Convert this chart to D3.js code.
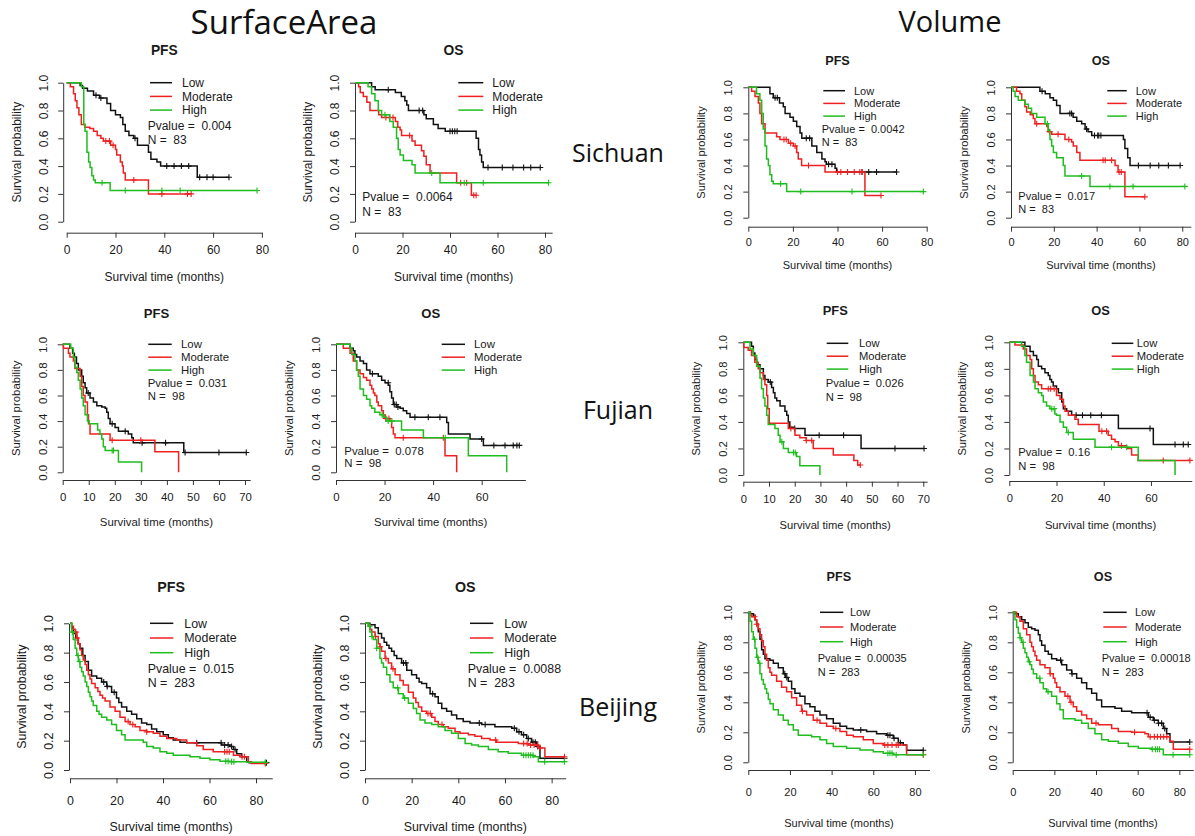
<!DOCTYPE html>
<meta charset="utf-8">
<style>
  body { margin: 0; background: #fff; }
  text { font-family: "Liberation Sans", Arial, sans-serif; fill: #1a1a1a; }
  .curve { fill: none; stroke-width: 1.5; }
  .cens { fill: none; stroke-width: 1.1; }
  .axis path, .axis line { stroke: #333; }
  .big { font-family: "Open Sans", "Liberation Sans", sans-serif; fill: #111; }
</style>
<svg width="1195" height="836"></svg>
<script src="https://d3js.org/d3.v7.min.js"></script>
<script>

// ---- data ----
var groups = ["Low", "Moderate", "High"];
var groupColors = ["#111111", "#ee2020", "#1fbd1f"];
var measures = ["SurfaceArea", "Volume"];
var cohorts = ["Sichuan", "Fujian", "Beijing"];
var endpoints = ["PFS", "OS", "PFS", "OS"];
var pValues = ["0.004", "0.0064", "0.0042", "0.017", "0.031", "0.078", "0.026", "0.16", "0.015", "0.0088", "0.00035", "0.00018"];
var sampleSizes = [83, 83, 83, 83, 98, 98, 98, 98, 283, 283, 283, 283];
var yTicks = [0, 0.2, 0.4, 0.6, 0.8, 1.0];

// Sichuan, SurfaceArea, PFS
var scAreaPfsLow = [[5.5,0.98],[6.5,0.96],[8.5,0.94],[11,0.91],[13.5,0.89],[16.5,0.85],[18,0.80],[20,0.77],[22,0.75],[23,0.70],[24,0.65],[25.5,0.62],[27.5,0.60],[29,0.55],[33.5,0.50],[34.5,0.45],[37,0.43],[38.5,0.40],[53.5,0.32]];
var scAreaPfsLowCens = [12,14,28,41,44,47,50,54.5,57.5,60,66.5];
var scAreaPfsMod = [[1.5,0.97],[2.8,0.92],[3.5,0.87],[4.2,0.82],[5,0.77],[6,0.70],[7.5,0.68],[9.5,0.67],[11,0.65],[12.5,0.62],[14,0.60],[15,0.58],[18,0.55],[20,0.52],[20.5,0.48],[22,0.43],[22.8,0.40],[23.2,0.35],[24,0.30],[33.5,0.20]];
var scAreaPfsModCens = [16,17.5,19,27.5,39,49.5,51];
var scAreaPfsHigh = [[6,0.97],[7,0.70],[7.5,0.65],[8.3,0.50],[9,0.43],[9.6,0.39],[10.3,0.33],[11,0.30],[11.7,0.28],[17.8,0.225]];
var scAreaPfsHighCens = [14.5,24,39,46.5,78];

// Sichuan, SurfaceArea, OS
var scAreaOsLow = [[7,0.97],[8.5,0.95],[17,0.93],[19.5,0.90],[21,0.87],[21.8,0.84],[22.5,0.80],[29,0.77],[30,0.74],[33,0.70],[35,0.67],[38,0.65],[51,0.60],[52,0.52],[52.6,0.48],[53.3,0.43],[54,0.39]];
var scAreaOsLowCens = [14,27,28.5,40,41,42,43,56,62,66.5,71,74,78];
var scAreaOsMod = [[1.5,0.97],[2.2,0.93],[3.5,0.90],[5,0.86],[6.3,0.80],[10,0.77],[11.2,0.75],[17,0.72],[18,0.68],[19,0.66],[19.6,0.62],[24,0.58],[25.3,0.55],[28,0.51],[29,0.47],[30,0.41],[31.6,0.35],[42.8,0.28],[49,0.19]];
var scAreaOsModCens = [13,14.5,16,23,44.5,47,50,51];
var scAreaOsHigh = [[5.5,0.97],[7,0.92],[8.4,0.87],[9.8,0.80],[11.2,0.77],[14.7,0.72],[16.1,0.68],[17.5,0.60],[18.2,0.52],[19,0.48],[20.4,0.44],[24,0.41],[25.3,0.35],[35.8,0.28]];
var scAreaOsHighCens = [12.6,32.3,46,54,81.5];

// Sichuan, Volume, PFS
var scVolPfsLow = [[9.7,0.95],[11.2,0.92],[14,0.88],[15.7,0.85],[16.5,0.80],[18.7,0.77],[20.2,0.74],[21.7,0.70],[23.2,0.65],[24,0.61],[28.5,0.55],[30.7,0.50],[33,0.45],[34.4,0.43],[35,0.41],[38.9,0.38],[39.6,0.35]];
var scVolPfsLowCens = [12,13,26,27.5,36,37.5,51,54,57.5,66.5];
var scVolPfsMod = [[1.5,0.97],[3,0.93],[4.5,0.88],[5.2,0.80],[6,0.72],[7.5,0.65],[12.7,0.62],[14.2,0.60],[18,0.57],[20.2,0.55],[21.7,0.50],[22.4,0.45],[23.9,0.40],[34.4,0.35],[52.3,0.17]];
var scVolPfsModCens = [16,17,19,21,27,40,41.5,44.5,47.5,50,51,59.5];
var scVolPfsHigh = [[3.7,0.95],[5.2,0.90],[6,0.80],[6.7,0.68],[7.5,0.55],[8.2,0.45],[9,0.40],[9.7,0.33],[10.5,0.28],[11.2,0.26],[17.2,0.20]];
var scVolPfsHighCens = [14.5,23.5,46.5,78.5];

// Sichuan, Volume, OS
var scVolOsLow = [[13.5,0.97],[16,0.95],[18.2,0.92],[19.8,0.90],[21.3,0.86],[22.9,0.80],[29,0.77],[30.7,0.74],[33,0.72],[34.6,0.68],[36,0.66],[37.7,0.63],[52.5,0.60],[53.2,0.53],[54.5,0.46],[55.6,0.40]];
var scVolOsLowCens = [14.5,27.5,28.3,35.3,39,40.5,41,42,59.5,65,69,73.5,79];
var scVolOsMod = [[2.6,0.97],[4.2,0.95],[5,0.90],[6.5,0.85],[7.3,0.81],[9,0.79],[10.4,0.76],[11.2,0.72],[16.7,0.70],[17.4,0.66],[19,0.64],[25.2,0.60],[28.3,0.58],[29.1,0.55],[30.7,0.50],[32.2,0.44],[48.6,0.40],[50,0.35],[53.2,0.16]];
var scVolOsModCens = [12,18,22,27,43,44,47,50.5,51.5,62.5];
var scVolOsHigh = [[1,0.97],[1.9,0.93],[3.4,0.90],[6.5,0.87],[8.1,0.84],[9.6,0.80],[12,0.77],[15.9,0.72],[17.4,0.67],[18.2,0.60],[19,0.55],[19.8,0.50],[21.3,0.46],[24.4,0.40],[25.2,0.32],[36.9,0.24]];
var scVolOsHighCens = [17,33,46.2,57,81.2];

// Fujian, SurfaceArea, PFS
var fjAreaPfsLow = [[2.8,0.97],[3.8,0.93],[4.5,0.90],[5.3,0.85],[6,0.80],[7.3,0.75],[7.9,0.70],[8.6,0.66],[9.2,0.62],[10.5,0.58],[11.8,0.55],[13.1,0.52],[15,0.51],[16.3,0.50],[16.9,0.47],[17.5,0.42],[18.2,0.38],[20.1,0.35],[21.4,0.32],[25.2,0.30],[26.5,0.27],[27.1,0.23],[46.5,0.155]];
var fjAreaPfsLowCens = [9.8,19,24,30.5,39.5,47,60,70.5];
var fjAreaPfsMod = [[0.3,0.97],[2.2,0.93],[2.8,0.90],[4.1,0.87],[4.7,0.81],[6.7,0.75],[7.3,0.67],[7.9,0.60],[8.6,0.55],[9.5,0.45],[9.9,0.38],[10.5,0.30],[18.2,0.25],[35.4,0.16],[44.5,0]];
var fjAreaPfsModCens = [19,30];
var fjAreaPfsHigh = [[3.1,0.97],[4.1,0.90],[4.7,0.82],[5.4,0.78],[6,0.72],[6.7,0.65],[7.3,0.58],[7.9,0.52],[8.6,0.45],[9.5,0.40],[10.2,0.38],[13.4,0.33],[14.3,0.30],[15,0.26],[15.6,0.20],[16.3,0.17],[21.4,0.08],[30.3,0]];
var fjAreaPfsHighCens = [19,19.5];

// Fujian, SurfaceArea, OS
var fjAreaOsLow = [[5.8,0.97],[7.1,0.95],[7.8,0.92],[8.5,0.90],[9.9,0.87],[11.3,0.85],[12.6,0.80],[14,0.77],[17.4,0.75],[18.8,0.72],[20.2,0.70],[21.6,0.68],[22.2,0.63],[22.9,0.58],[23.6,0.53],[25,0.51],[26.4,0.50],[27.7,0.48],[29.1,0.46],[30.5,0.43],[45.6,0.39],[46.3,0.30],[55.2,0.26],[60.7,0.21]];
var fjAreaOsLowCens = [15,21.5,24,24.8,25.5,32.5,38,42.8,60,65,69.6,73,74.5,75.5];
var fjAreaOsMod = [[3,0.97],[5.8,0.93],[7.1,0.87],[8.5,0.80],[9.9,0.77],[11.3,0.74],[12.6,0.72],[14,0.68],[14.7,0.65],[15.4,0.62],[16,0.60],[16.8,0.55],[17.4,0.52],[18.8,0.48],[19.5,0.45],[20.2,0.42],[22.2,0.40],[22.9,0.35],[23.6,0.30],[24.3,0.27],[44.9,0.13],[49.7,0]];
var fjAreaOsModCens = [20.5,21.8,27.7,44.2];
var fjAreaOsHigh = [[5.8,0.97],[6.5,0.92],[7.8,0.87],[8.5,0.80],[9.2,0.75],[9.9,0.65],[11.3,0.60],[12.6,0.57],[14,0.52],[14.7,0.50],[16,0.47],[18.1,0.45],[19.5,0.43],[20.9,0.40],[27,0.33],[36,0.27],[54.5,0.13],[70.3,0]];
var fjAreaOsHighCens = [19,21.5,23,45];

// Fujian, Volume, PFS
var fjVolPfsLow = [[3.2,0.97],[3.9,0.92],[4.5,0.87],[5.2,0.83],[6.5,0.80],[7.8,0.75],[8.4,0.72],[9.7,0.70],[11,0.66],[11.7,0.62],[12.3,0.58],[13,0.56],[14.3,0.52],[16.2,0.48],[16.9,0.45],[17.5,0.40],[18.1,0.36],[19.4,0.35],[24,0.30],[45.8,0.20]];
var fjVolPfsLowCens = [10.5,20,29.5,39,59,70.3];
var fjVolPfsMod = [[0.2,0.96],[1.9,0.94],[3.2,0.90],[4.5,0.85],[5.8,0.80],[6.5,0.77],[7.8,0.72],[8.4,0.68],[9.1,0.60],[9.5,0.50],[10.1,0.39],[17.5,0.35],[20.1,0.30],[22,0.28],[24.5,0.26],[27.2,0.20],[35,0.15],[43,0.11],[44.5,0.075]];
var fjVolPfsModCens = [18.5,24.5,26.6,45.5];
var fjVolPfsHigh = [[2.6,0.95],[3.9,0.90],[5.2,0.82],[6.5,0.73],[7.1,0.65],[7.8,0.58],[8.4,0.52],[9.1,0.45],[9.7,0.38],[12.3,0.35],[13.6,0.30],[14.3,0.25],[15.6,0.20],[17.5,0.17],[20.7,0.14],[22,0.07],[29.8,0]];
var fjVolPfsHighCens = [15,19.5,20.2];

// Fujian, Volume, OS
var fjVolOsLow = [[6.6,0.97],[8.8,0.93],[10.2,0.90],[11.6,0.87],[12.3,0.82],[13.7,0.80],[15.1,0.77],[16.5,0.75],[17.2,0.72],[17.9,0.70],[18.6,0.67],[20,0.65],[20.8,0.62],[22.2,0.55],[22.9,0.50],[24.3,0.48],[26.4,0.45],[46.2,0.35],[61,0.23]];
var fjVolOsLowCens = [28.3,31,34.5,39,59.6,70.2,73.7,75.8];
var fjVolOsMod = [[2.4,0.98],[5.9,0.95],[7.3,0.90],[8.8,0.87],[9.5,0.80],[10.2,0.75],[10.9,0.70],[12.3,0.68],[13.7,0.65],[20,0.60],[21.5,0.57],[22.9,0.52],[23.6,0.48],[25,0.45],[27.8,0.42],[29.2,0.38],[38,0.33],[41.9,0.30],[43.3,0.27],[44.8,0.25],[46.2,0.22],[49.7,0.20],[51.8,0.15],[54.6,0.11]];
var fjVolOsModCens = [16.5,17.5,19,39.2,41.2,47.5,65.2,76.5];
var fjVolOsHigh = [[5.2,0.97],[6.6,0.90],[7.3,0.85],[8.8,0.75],[10.2,0.70],[10.9,0.65],[12.3,0.62],[13.7,0.60],[14.4,0.55],[15.8,0.52],[17.2,0.50],[19.3,0.46],[20,0.45],[21.5,0.40],[22.9,0.36],[24.3,0.32],[27.1,0.27],[36.3,0.21],[54.6,0.11],[70.2,0]];
var fjVolOsHighCens = [18,19,25,43.3,49.7];

// Beijing, SurfaceArea, PFS
var bjAreaPfsLow = [[0.7,0.97],[1.4,0.93],[2.5,0.90],[3.5,0.86],[4.3,0.83],[5.5,0.78],[6.5,0.74],[7.9,0.68],[9.3,0.64],[11.5,0.625],[13.6,0.60],[15.8,0.57],[17.9,0.53],[20,0.49],[21,0.46],[22.2,0.43],[24.4,0.40],[26.5,0.38],[28.7,0.35],[30.8,0.32],[33,0.31],[35.1,0.28],[37.3,0.26],[40.1,0.24],[42.3,0.22],[44.4,0.205],[47.3,0.19],[50.2,0.185],[65.2,0.17],[68.8,0.16],[70.3,0.14],[71.7,0.11],[73.8,0.09],[76,0.057],[77,0.05]];
var bjAreaPfsLowCens = [14.5,16,19,54.5,65,66.5,68,69.5,71,84.5];
var bjAreaPfsMod = [[0.7,0.98],[1.5,0.96],[2.2,0.94],[3,0.90],[3.6,0.86],[4.3,0.82],[5,0.78],[5.7,0.75],[6.5,0.72],[7.2,0.68],[7.9,0.65],[8.6,0.62],[9.3,0.59],[10.8,0.56],[12,0.535],[12.9,0.51],[14,0.49],[15.1,0.47],[17.2,0.43],[19.4,0.40],[21.5,0.36],[23.7,0.33],[25.8,0.31],[28,0.295],[30.1,0.27],[33,0.26],[35.8,0.25],[38.7,0.23],[41.6,0.215],[45.9,0.205],[50.2,0.185],[54.5,0.165],[57.3,0.14],[61.6,0.125],[70.3,0.10],[73.1,0.09],[76.7,0.057],[78,0.045]];
var bjAreaPfsModCens = [2.5,3,25,27,33,66.5,67.5,68.5,74,75,84];
var bjAreaPfsHigh = [[0.7,0.94],[1.4,0.89],[2.2,0.83],[2.9,0.78],[3.6,0.74],[4.3,0.70],[5,0.67],[5.7,0.64],[6.5,0.60],[7.2,0.57],[7.9,0.53],[8.6,0.50],[9.3,0.47],[10,0.44],[11.5,0.40],[12.5,0.38],[13.6,0.36],[15.8,0.34],[17.9,0.31],[20,0.27],[22.2,0.24],[23.7,0.205],[31.5,0.19],[33,0.16],[35.8,0.15],[38.7,0.125],[41.6,0.115],[44.4,0.10],[51.6,0.09],[55.9,0.08],[60.2,0.07],[64.5,0.06],[68.8,0.057],[76,0.052]];
var bjAreaPfsHighCens = [1,3.5,4.2,67,68,69.5,70.5,84];

// Beijing, SurfaceArea, OS
var bjAreaOsLow = [[2.1,0.99],[4.3,0.97],[5.7,0.93],[7.1,0.90],[8.2,0.87],[9.3,0.85],[10.3,0.83],[11.4,0.81],[12.5,0.78],[13.6,0.76],[15.7,0.73],[17.9,0.68],[20,0.65],[22.1,0.625],[23.2,0.60],[24.3,0.59],[26.4,0.56],[27.9,0.52],[30,0.50],[31.4,0.455],[32.9,0.42],[35,0.40],[37.1,0.375],[39.3,0.35],[42.1,0.33],[45,0.32],[50,0.31],[55.7,0.295],[62.9,0.285],[65,0.26],[67.1,0.24],[69.3,0.215],[71.4,0.19],[73.6,0.16],[75,0.08]];
var bjAreaOsLowCens = [16.5,17.5,29,49,51.5,64,66,68,70,72,73,74,85.5];
var bjAreaOsMod = [[1.4,0.99],[2.2,0.96],[2.9,0.94],[4.3,0.91],[5.7,0.86],[6.4,0.84],[7.1,0.81],[8.6,0.76],[10,0.73],[11.4,0.69],[12.9,0.65],[15,0.61],[16.4,0.58],[18.6,0.53],[20.7,0.49],[21.8,0.46],[22.9,0.43],[24.3,0.40],[26.4,0.385],[28.6,0.36],[30,0.33],[31.4,0.31],[33.6,0.295],[35.7,0.285],[38.6,0.26],[40.7,0.25],[44.3,0.24],[47.1,0.23],[50,0.215],[53.6,0.205],[56.4,0.19],[65.7,0.18],[70,0.17],[74.3,0.15],[77.1,0.09]];
var bjAreaOsModCens = [4.5,6.5,9,12,27,28,33,56,68,69.5,71,72.5,74,75,85.5];
var bjAreaOsHigh = [[1.4,0.98],[2.1,0.94],[2.9,0.91],[3.6,0.89],[5,0.83],[6.4,0.76],[7.1,0.73],[7.9,0.70],[9.3,0.65],[10.7,0.60],[12.1,0.56],[14.3,0.52],[16.4,0.49],[18.6,0.455],[20.7,0.42],[22.1,0.385],[23.6,0.34],[25.7,0.32],[28.6,0.31],[31.4,0.295],[34.3,0.27],[37.1,0.25],[40,0.215],[42.9,0.18],[45.7,0.17],[48.6,0.16],[52.9,0.14],[57.1,0.125],[61.4,0.115],[67.1,0.10],[72.1,0.09],[74.3,0.057]];
var bjAreaOsHighCens = [2,3,5,14,17,68,69,70,71,72,77,85.5];

// Beijing, Volume, PFS
var bjVolPfsLow = [[1,0.99],[2.4,0.98],[3.2,0.95],[4,0.92],[4.8,0.87],[5.6,0.82],[6.4,0.75],[7.2,0.72],[8,0.69],[10.4,0.68],[12,0.66],[14.4,0.63],[16.8,0.59],[18,0.565],[19.2,0.54],[20.8,0.49],[22.4,0.46],[24.8,0.44],[27.2,0.39],[29.6,0.37],[32,0.34],[34.4,0.315],[37.6,0.29],[40.8,0.26],[44,0.24],[47.2,0.225],[50.4,0.215],[56.8,0.205],[61.6,0.19],[66.4,0.18],[69.6,0.16],[72,0.13],[74.4,0.115],[76,0.08]];
var bjVolPfsLowCens = [17.5,18.5,54,67,68,70,73,84];
var bjVolPfsMod = [[1,0.98],[1.6,0.97],[3.2,0.95],[4,0.92],[4.8,0.89],[5.6,0.85],[6.4,0.81],[7.2,0.77],[8,0.72],[8.8,0.68],[9.6,0.63],[10.4,0.60],[11.2,0.58],[13.6,0.54],[16,0.50],[18.4,0.47],[20.8,0.43],[23.2,0.38],[25.6,0.34],[28,0.315],[31.2,0.28],[34.4,0.26],[37.6,0.24],[40.8,0.225],[44,0.205],[47.2,0.18],[50.4,0.17],[55.2,0.15],[60,0.125],[64.8,0.115],[76,0.05]];
var bjVolPfsModCens = [3,4,26,33,42,65.5,67,69,71,72,84];
var bjVolPfsHigh = [[0.8,0.94],[1.6,0.87],[2.4,0.82],[3.2,0.76],[4,0.70],[4.8,0.66],[5.6,0.59],[6.4,0.55],[7.2,0.52],[8,0.49],[8.8,0.46],[9.6,0.42],[10.4,0.39],[12,0.35],[14.4,0.315],[16.8,0.28],[19.2,0.25],[21.6,0.215],[24,0.18],[30.4,0.17],[34.4,0.15],[37.6,0.125],[40.8,0.105],[47.2,0.093],[53.6,0.082],[60,0.07],[64.8,0.06],[69.6,0.05]];
var bjVolPfsHighCens = [3,4.5,5.5,67,68,69,71,84];

// Beijing, Volume, OS
var bjVolOsLow = [[1.1,0.99],[2.7,0.97],[4.3,0.95],[5.9,0.93],[7.5,0.90],[9.1,0.89],[10.7,0.88],[12.3,0.85],[13.1,0.81],[13.9,0.78],[15.5,0.74],[17.1,0.72],[18.7,0.69],[21.1,0.68],[23.5,0.65],[25.9,0.615],[28.3,0.59],[30.7,0.56],[33.1,0.53],[35.5,0.49],[37.9,0.46],[40.3,0.415],[42.7,0.37],[49.1,0.36],[52.3,0.34],[57.1,0.33],[65.1,0.30],[67.5,0.28],[69.9,0.26],[72.3,0.225],[73.9,0.19],[75.5,0.135]];
var bjVolOsLowCens = [23,28.5,64.5,66,68,70,71.5,73,85];
var bjVolOsMod = [[1.9,0.97],[3.5,0.94],[5.1,0.89],[6.7,0.85],[8.3,0.80],[9.1,0.77],[9.9,0.74],[10.7,0.71],[11.5,0.68],[13.1,0.65],[15.5,0.63],[17.9,0.59],[19.5,0.56],[20.3,0.53],[21.1,0.50],[22.7,0.47],[25.1,0.44],[27.5,0.40],[29.1,0.37],[30.7,0.34],[33.1,0.315],[35.5,0.29],[37.9,0.26],[41.1,0.25],[47.5,0.225],[50.7,0.205],[57.1,0.20],[63.5,0.19],[65.1,0.17],[75.5,0.14],[77.1,0.087]];
var bjVolOsModCens = [18,26.5,28,40,58.5,66,68,69.5,71,72.5,74,85];
var bjVolOsHigh = [[1.1,0.95],[1.9,0.90],[2.7,0.86],[3.5,0.83],[4.3,0.80],[5.1,0.76],[5.9,0.73],[6.7,0.70],[7.5,0.67],[8.3,0.65],[9.1,0.62],[9.9,0.59],[11.5,0.56],[13.1,0.53],[14.7,0.49],[16.3,0.47],[18.7,0.44],[21.1,0.39],[22.7,0.35],[24.3,0.29],[29.9,0.28],[33.1,0.26],[36.3,0.225],[39.5,0.19],[42.7,0.15],[45.9,0.14],[50.7,0.127],[55.5,0.105],[60.3,0.093],[66.7,0.087],[72.3,0.05]];
var bjVolOsHighCens = [3.5,5,8,13,17,67,68.5,69.5,70.5,77,85];

// curves of each panel, row by row: [steps, censor times] for Low, Moderate, High
var panelCurves = [
  [[scAreaPfsLow, scAreaPfsLowCens], [scAreaPfsMod, scAreaPfsModCens], [scAreaPfsHigh, scAreaPfsHighCens]],
  [[scAreaOsLow, scAreaOsLowCens], [scAreaOsMod, scAreaOsModCens], [scAreaOsHigh, scAreaOsHighCens]],
  [[scVolPfsLow, scVolPfsLowCens], [scVolPfsMod, scVolPfsModCens], [scVolPfsHigh, scVolPfsHighCens]],
  [[scVolOsLow, scVolOsLowCens], [scVolOsMod, scVolOsModCens], [scVolOsHigh, scVolOsHighCens]],
  [[fjAreaPfsLow, fjAreaPfsLowCens], [fjAreaPfsMod, fjAreaPfsModCens], [fjAreaPfsHigh, fjAreaPfsHighCens]],
  [[fjAreaOsLow, fjAreaOsLowCens], [fjAreaOsMod, fjAreaOsModCens], [fjAreaOsHigh, fjAreaOsHighCens]],
  [[fjVolPfsLow, fjVolPfsLowCens], [fjVolPfsMod, fjVolPfsModCens], [fjVolPfsHigh, fjVolPfsHighCens]],
  [[fjVolOsLow, fjVolOsLowCens], [fjVolOsMod, fjVolOsModCens], [fjVolOsHigh, fjVolOsHighCens]],
  [[bjAreaPfsLow, bjAreaPfsLowCens], [bjAreaPfsMod, bjAreaPfsModCens], [bjAreaPfsHigh, bjAreaPfsHighCens]],
  [[bjAreaOsLow, bjAreaOsLowCens], [bjAreaOsMod, bjAreaOsModCens], [bjAreaOsHigh, bjAreaOsHighCens]],
  [[bjVolPfsLow, bjVolPfsLowCens], [bjVolPfsMod, bjVolPfsModCens], [bjVolPfsHigh, bjVolPfsHighCens]],
  [[bjVolOsLow, bjVolOsLowCens], [bjVolOsMod, bjVolOsModCens], [bjVolOsHigh, bjVolOsHighCens]]
];

var xTicks80 = [0, 20, 40, 60, 80],
    xTicks70 = [0, 10, 20, 30, 40, 50, 60, 70],
    xTicks60 = [0, 20, 40, 60];

// ---- layout (pixels) ----
// ox: x of time 0, pxm: px per month, y1/y0: y of 1.0 / 0.0, gx/gy: axis offsets
var layout = [
  {ox: 66.7, pxm: 2.44, y1: 82.7, y0: 221.7, gx: 3.5, gy: 11, xEnd: 80, ticks: xTicks80, fs: 12, titleY: 50, xlabY: 277, tOff: 17,
   lx1: 150, lx2: 172, ltx: 182, ly: 82.7, ldy: 13.7, px: 147.7, py: 126, pdy: 13.3},
  {ox: 355, pxm: 2.375, y1: 82.7, y0: 221.7, gx: 0, gy: 11, xEnd: 83, ticks: xTicks80, fs: 12, titleY: 50, xlabY: 277, tOff: 17,
   lx1: 458.3, lx2: 483.3, ltx: 492.3, ly: 82.7, ldy: 13.7, px: 362.3, py: 196.7, pdy: 15},
  {ox: 748.3, pxm: 2.23, y1: 87.3, y0: 217.7, gx: 0, gy: 9, xEnd: 80, ticks: xTicks80, fs: 11, titleY: 60, xlabY: 265, tOff: 15,
   lx1: 823.3, lx2: 845, ltx: 854, ly: 90.7, ldy: 12.7, px: 821.7, py: 129, pdy: 12.7},
  {ox: 1011, pxm: 2.141, y1: 87.3, y0: 217.7, gx: 0, gy: 9, xEnd: 84, ticks: xTicks80, fs: 11, titleY: 60, xlabY: 265, tOff: 15,
   lx1: 1107.3, lx2: 1126.7, ltx: 1135.7, ly: 90.7, ldy: 12.7, px: 1018.3, py: 195.7, pdy: 13.3},
  {ox: 62.7, pxm: 2.604, y1: 344.3, y0: 472.3, gx: 0, gy: 7.7, xEnd: 72, ticks: xTicks70, fs: 11.4, titleY: 313, xlabY: 522, tOff: 17,
   lx1: 148.3, lx2: 171.7, ltx: 181, ly: 344.3, ldy: 12.9, px: 147.7, py: 383.3, pdy: 12.7},
  {ox: 336, pxm: 2.428, y1: 344.3, y0: 472.3, gx: 0, gy: 7.7, xEnd: 78, ticks: xTicks60, fs: 11.4, titleY: 313, xlabY: 522, tOff: 17,
   lx1: 441.7, lx2: 465, ltx: 474, ly: 344.3, ldy: 12.9, px: 344.3, py: 450.7, pdy: 12.6},
  {ox: 743.3, pxm: 2.571, y1: 342.3, y0: 475, gx: 0, gy: 6.7, xEnd: 71.5, ticks: xTicks70, fs: 11.2, titleY: 310, xlabY: 525, tOff: 17,
   lx1: 826.7, lx2: 848.3, ltx: 859, ly: 343.3, ldy: 12.9, px: 825.7, py: 383.3, pdy: 13.4},
  {ox: 1009.3, pxm: 2.361, y1: 342.3, y0: 475, gx: 0, gy: 6, xEnd: 77.3, ticks: xTicks60, fs: 11.2, titleY: 310, xlabY: 525, tOff: 17,
   lx1: 1111.7, lx2: 1133.3, ltx: 1136.7, ly: 343.3, ldy: 12.9, px: 1018.3, py: 451.7, pdy: 14},
  {ox: 70, pxm: 2.325, y1: 623.3, y0: 770, gx: 1, gy: 8.3, xEnd: 87, ticks: xTicks80, fs: 12.4, titleY: 586.7, xlabY: 826.7, tOff: 22,
   lx1: 150, lx2: 173.3, ltx: 184.3, ly: 623.3, ldy: 14.7, px: 147.7, py: 668.3, pdy: 14.4},
  {ox: 365, pxm: 2.333, y1: 623.3, y0: 770, gx: 0, gy: 8.3, xEnd: 86, ticks: xTicks80, fs: 12.4, titleY: 586.7, xlabY: 826.7, tOff: 22,
   lx1: 470, lx2: 493.3, ltx: 504.3, ly: 623.3, ldy: 14.7, px: 467.7, py: 668.3, pdy: 14.4},
  {ox: 748.3, pxm: 2.083, y1: 612.3, y0: 762.3, gx: 0, gy: 7.7, xEnd: 87, ticks: xTicks80, fs: 11, titleY: 576.7, xlabY: 823.3, tOff: 21.7,
   lx1: 820, lx2: 843.3, ltx: 850, ly: 612.3, ldy: 14.7, px: 817.7, py: 658.3, pdy: 13.4},
  {ox: 1012.7, pxm: 2.083, y1: 612.3, y0: 762.3, gx: 0, gy: 7.7, xEnd: 86.7, ticks: xTicks80, fs: 11, titleY: 576.7, xlabY: 823.3, tOff: 21.7,
   lx1: 1103.3, lx2: 1126.7, ltx: 1135, ly: 612.3, ldy: 14.7, px: 1101.7, py: 658.3, pdy: 13.4}
];

var svg = d3.select("svg");

function survAt(steps, t) {
  var s = 1;
  steps.forEach(function(p) { if (p[0] <= t) s = p[1]; });
  return s;
}

function drawPanel(L, i) {
  var x = d3.scaleLinear().domain([0, L.xEnd]).range([L.ox, L.ox + L.xEnd * L.pxm]);
  var y = d3.scaleLinear().domain([0, 1]).range([L.y0, L.y1]);
  var cx = (x.range()[0] + x.range()[1]) / 2;

  var g = svg.append("g").style("font-size", L.fs + "px");

  var ax = g.append("g")
    .attr("class", "axis")
    .attr("transform", "translate(0," + (L.y0 + L.gy) + ")")
    .call(d3.axisBottom(x).tickValues(L.ticks).tickSize(5).tickSizeOuter(0));
  ax.attr("font-size", null).attr("font-family", null);
  ax.selectAll("text").attr("y", L.tOff).attr("dy", "0.36em");

  var ay = g.append("g")
    .attr("class", "axis")
    .attr("transform", "translate(" + (L.ox - L.gx) + ",0)")
    .call(d3.axisLeft(y).tickValues(yTicks).tickFormat(d3.format(".1f")).tickSize(5).tickSizeOuter(0));
  ay.attr("font-size", null).attr("font-family", null);
  ay.selectAll("text")
    .attr("x", 0).attr("y", -20).attr("dy", "0.36em")
    .attr("text-anchor", "middle")
    .attr("transform", "rotate(-90)");

  g.append("text")
    .attr("transform", "translate(" + (L.ox - L.gx - 47) + "," + ((L.y0 + L.y1) / 2) + ") rotate(-90)")
    .attr("text-anchor", "middle")
    .attr("dy", "0.36em")
    .text("Survival probability");

  g.append("text")
    .attr("x", cx).attr("y", L.xlabY).attr("dy", "0.36em")
    .attr("text-anchor", "middle")
    .text("Survival time (months)");

  g.append("text")
    .attr("x", cx).attr("y", L.titleY).attr("dy", "0.36em")
    .attr("text-anchor", "middle")
    .style("font-weight", "bold")
    .style("font-size", (L.fs * 1.15) + "px")
    .text(endpoints[i % 4]);

  var line = d3.line()
    .x(function(d) { return x(d[0]); })
    .y(function(d) { return y(d[1]); })
    .curve(d3.curveStepAfter);

  panelCurves[i].forEach(function(c, k) {
    var steps = c[0], cens = c[1];
    var end = Math.max(steps[steps.length - 1][0], d3.max(cens) || 0);
    var pts = [[0, 1]].concat(steps);
    pts.push([end, pts[pts.length - 1][1]]);

    g.append("path")
      .attr("class", "curve")
      .attr("stroke", groupColors[k])
      .attr("d", line(pts));

    g.selectAll(".cens" + k)
      .data(cens)
      .enter().append("path")
      .attr("class", "cens cens" + k)
      .attr("stroke", groupColors[k])
      .attr("transform", function(t) { return "translate(" + x(t) + "," + y(survAt(steps, t)) + ")"; })
      .attr("d", "M-3,0H3M0,-3V3");
  });

  // legend
  groups.forEach(function(name, k) {
    var yy = L.ly + k * L.ldy;
    g.append("line")
      .attr("x1", L.lx1).attr("x2", L.lx2).attr("y1", yy).attr("y2", yy)
      .attr("stroke", groupColors[k]).attr("stroke-width", 1.5);
    g.append("text")
      .attr("x", L.ltx).attr("y", yy).attr("dy", "0.36em")
      .text(name);
  });

  g.append("text")
    .attr("x", L.px).attr("y", L.py).attr("dy", "0.36em")
    .style("white-space", "pre")
    .text("Pvalue =  " + pValues[i]);
  g.append("text")
    .attr("x", L.px).attr("y", L.py + L.pdy).attr("dy", "0.36em")
    .style("white-space", "pre")
    .text("N =  " + sampleSizes[i]);
}

layout.forEach(drawPanel);

// headers and cohort labels
var headerX = [284, 950],
    headerSize = [33, 29];
svg.selectAll(".measure")
  .data(measures)
  .enter().append("text")
  .attr("class", "big measure")
  .attr("x", function(d, i) { return headerX[i]; })
  .attr("y", 22).attr("dy", "0.36em")
  .attr("text-anchor", "middle")
  .style("font-size", function(d, i) { return headerSize[i] + "px"; })
  .text(function(d) { return d; });

var cohortY = [153, 410, 707];
svg.selectAll(".cohort")
  .data(cohorts)
  .enter().append("text")
  .attr("class", "big cohort")
  .attr("x", 618)
  .attr("y", function(d, i) { return cohortY[i]; })
  .attr("dy", "0.36em")
  .attr("text-anchor", "middle")
  .style("font-size", "25px")
  .text(function(d) { return d; });

</script>
